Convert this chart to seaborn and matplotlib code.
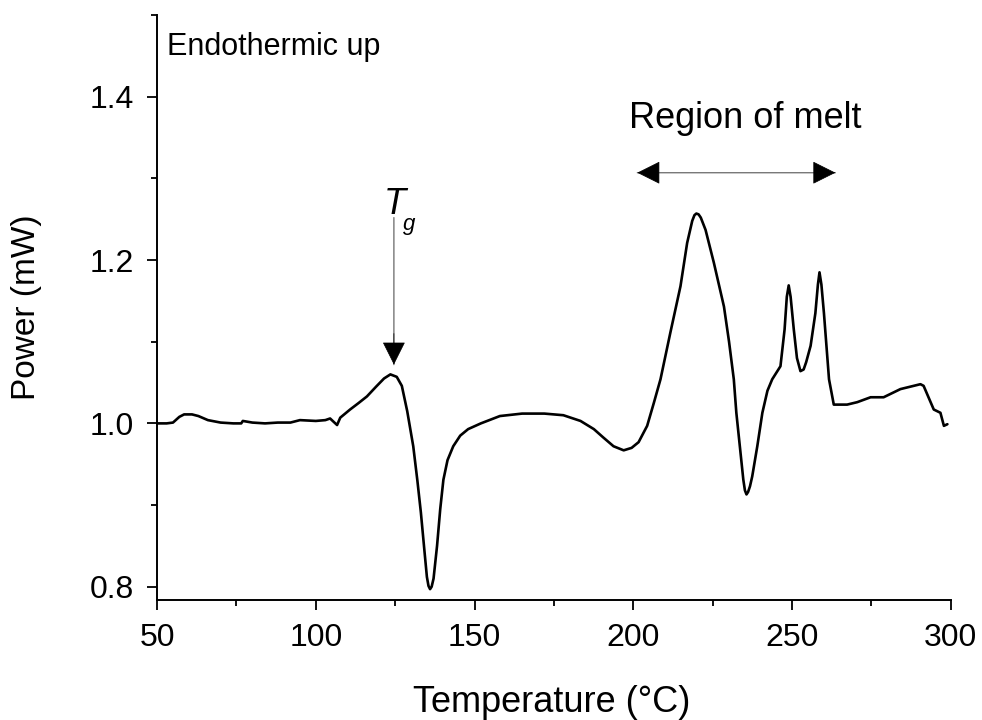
import numpy as np
import pandas as pd
import matplotlib
matplotlib.use("Agg")
import matplotlib.pyplot as plt
import seaborn as sns

# DSC trace
temperature = [50, 53, 55, 57, 58.5, 61, 63, 66, 70, 74, 76.5, 77, 80, 84, 88, 92, 95,
               100, 103, 104.5, 106.7, 107.7, 110.8, 113.5, 116.1, 119, 121.5, 123.5,
               125.5, 127.1, 128.8, 130.7, 132, 133.1, 134.2, 135, 135.5, 136, 136.5,
               137.1, 138.2, 139.2, 140.2, 141.5, 143.3, 145.5, 148, 152, 158, 165, 172,
               178, 183.4, 187.6, 190.5, 193.8, 197, 199.5, 201.7, 204.4, 206.5, 208.6,
               211.7, 214.9, 217, 218.6, 219.3, 219.9, 220.6, 221.3, 222.8, 225.4, 228.6,
               230.2, 231.7, 232.5, 233.6, 234.7, 235.2, 235.7, 236.2, 236.8, 237.5,
               239.1, 240.7, 242.3, 243.8, 246.4, 247.7, 248.4, 249, 249.6, 250.6, 251.6,
               252.7, 253.7, 254.5, 255.9, 257.4, 258.2, 258.7, 259.3, 260.1, 261.7,
               263.2, 267.4, 270.6, 274.8, 278.9, 284.2, 290.5, 291.5, 294.7, 296.8,
               297.9, 299]
power = [1.000, 1.000, 1.001, 1.008, 1.011, 1.011, 1.009, 1.004, 1.001, 1.000, 1.000,
         1.003, 1.001, 1.000, 1.001, 1.001, 1.004, 1.003, 1.004, 1.006, 0.998, 1.007,
         1.017, 1.025, 1.033, 1.045, 1.055, 1.060, 1.057, 1.046, 1.015, 0.972, 0.930,
         0.891, 0.845, 0.812, 0.801, 0.797, 0.800, 0.810, 0.850, 0.895, 0.931, 0.955,
         0.972, 0.985, 0.993, 1.000, 1.009, 1.012, 1.012, 1.010, 1.003, 0.993, 0.983,
         0.972, 0.967, 0.970, 0.977, 0.997, 1.025, 1.054, 1.111, 1.168, 1.221, 1.248,
         1.255, 1.257, 1.256, 1.252, 1.237, 1.197, 1.143, 1.100, 1.054, 1.013, 0.972,
         0.931, 0.918, 0.913, 0.916, 0.923, 0.935, 0.972, 1.013, 1.040, 1.054, 1.070,
         1.115, 1.155, 1.169, 1.155, 1.115, 1.080, 1.064, 1.066, 1.075, 1.095, 1.135,
         1.170, 1.185, 1.170, 1.135, 1.054, 1.023, 1.023, 1.026, 1.032, 1.032, 1.042,
         1.048, 1.046, 1.017, 1.013, 0.997, 0.999]

df = pd.DataFrame({"Temperature": temperature, "Power": power})

sns.set_style("ticks")
plt.rcParams['font.family'] = ['Liberation Sans', 'DejaVu Sans']
for key in ["text.color", "axes.labelcolor", "xtick.color", "ytick.color", "axes.edgecolor"]:
    plt.rcParams[key] = "black"

fig = plt.figure(figsize=(9.82, 7.2), dpi=100)
ax = fig.add_axes([0.16, 0.167, 0.808, 0.812])

sns.lineplot(data=df, x="Temperature", y="Power", color="black", linewidth=1.9,
             estimator=None, sort=False, ax=ax)

ax.set_xlim(50, 300)
ax.set_ylim(0.784, 1.5)
ax.set_xticks([50, 100, 150, 200, 250, 300])
ax.set_xticks(np.arange(75, 300, 50), minor=True)
ax.set_yticks([0.8, 1.0, 1.2, 1.4])
ax.set_yticks([0.9, 1.1, 1.3, 1.5], minor=True)
ax.set_yticklabels(["0.8", "1.0", "1.2", "1.4"])
ax.tick_params(which="major", direction="out", length=7.5, width=1.3, labelsize=23, pad=9.5)
ax.tick_params(which="minor", direction="out", length=4, width=1.3)
for side in ["top", "right"]:
    ax.spines[side].set_visible(False)
for side in ["left", "bottom"]:
    ax.spines[side].set_linewidth(1.4)

ax.set_xlabel("Temperature (°C)", fontsize=26)
ax.set_ylabel("Power (mW)", fontsize=24)
ax.xaxis.set_label_coords(0.497, -0.145)
ax.yaxis.set_label_coords(-0.145, 0.5)

# annotations
ax.text(0.012, 0.945, "Endothermic up", transform=ax.transAxes, fontsize=22,
        va="center", ha="left")

ax.text(235.4, 1.374, "Region of melt", fontsize=26, ha="center", va="center")
ax.annotate("", xy=(263.7, 1.307), xytext=(201.3, 1.307),
            arrowprops=dict(arrowstyle="-", color="#777777", lw=1.0, shrinkA=0, shrinkB=0))
ax.annotate("", xy=(263.7, 1.307), xytext=(258, 1.307),
            arrowprops=dict(arrowstyle="-|>,head_length=1.5,head_width=0.75", color="black",
                            lw=0.5, shrinkA=0, shrinkB=0))
ax.annotate("", xy=(201.3, 1.307), xytext=(207, 1.307),
            arrowprops=dict(arrowstyle="-|>,head_length=1.5,head_width=0.75", color="black",
                            lw=0.5, shrinkA=0, shrinkB=0))

ax.text(124.8, 1.268, "T", fontsize=26, fontstyle="italic", ha="center", va="center")
ax.text(129.4, 1.243, "g", fontsize=16, fontstyle="italic", ha="center", va="center")
ax.annotate("", xy=(124.6, 1.072), xytext=(124.6, 1.252),
            arrowprops=dict(arrowstyle="-", color="#777777", lw=1.0, shrinkA=0, shrinkB=0))
ax.annotate("", xy=(124.6, 1.072), xytext=(124.6, 1.11),
            arrowprops=dict(arrowstyle="-|>,head_length=1.5,head_width=0.75", color="black",
                            lw=0.5, shrinkA=0, shrinkB=0))

fig.savefig("out.png", dpi=100)
